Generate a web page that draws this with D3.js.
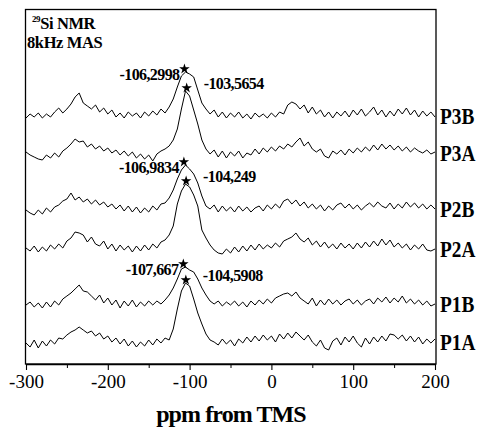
<!DOCTYPE html>
<html>
<head>
<meta charset="utf-8">
<title>29Si NMR</title>
<script type="text/javascript" src="https://cdn.jsdelivr.net/npm/d3@7"></script>
<style>
body { margin: 0; background: #fff; }
svg text { font-family: "Liberation Serif", "Times New Roman", serif; fill: #000; }
</style>
</head>
<body>
<div id="chart"></div>
<script type="text/javascript">
// chemical shift grid (ppm), 5 ppm steps
var ppm = [-300,-295,-290,-285,-280,-275,-270,-265,-260,-255,-250,-245,-240,-235,-230,-225,-220,-215,-210,-205,
  -200,-195,-190,-185,-180,-175,-170,-165,-160,-155,-150,-145,-140,-135,-130,-125,-120,-115,-110,-105,
  -100,-95,-90,-85,-80,-75,-70,-65,-60,-55,-50,-45,-40,-35,-30,-25,-20,-15,-10,-5,
  0,5,10,15,20,25,30,35,40,45,50,55,60,65,70,75,80,85,90,95,
  100,105,110,115,120,125,130,135,140,145,150,155,160,165,170,175,180,185,190,195,200];

// intensities (a.u.), one array per sample
var P3B = [-1,3,0,4,-1,3,0,5,9,4,8,13,20,24,14,11,8,12,5,9,
  3,7,0,4,-1,5,1,4,-1,5,1,6,2,8,4,10,18,30,41,45,
  43,40,27,14,8,3,7,0,5,-1,4,0,5,-1,3,-2,4,0,3,-1,
  4,0,5,3,12,15,13,8,12,4,10,3,7,0,5,-1,5,1,6,0,
  7,2,8,1,5,10,2,7,0,6,1,8,3,9,2,7,0,6,1,5,0];
var P3A = [2,-1,-3,-5,-6,-1,-4,1,-3,3,6,10,15,12,13,7,10,5,8,3,
  6,1,4,-1,3,-2,2,-4,0,-5,-1,-7,0,3,5,8,14,25,45,63,
  58,44,30,14,5,0,4,-3,3,-4,2,-2,3,-4,1,-1,5,0,6,2,
  7,3,8,5,10,7,12,16,8,12,5,2,5,-2,-4,3,0,4,-1,5,
  1,6,2,7,3,9,4,10,5,9,4,8,3,7,2,6,3,1,4,0,2];
var P2B = [0,-3,-5,0,-4,2,-2,3,5,9,11,17,10,13,8,11,6,10,5,8,
  3,6,1,5,-1,4,-2,3,-3,2,-2,4,0,6,7,12,20,31,40,45,
  41,36,27,14,4,1,5,-2,4,-1,3,-2,4,-1,3,-2,2,4,-1,5,
  1,6,2,9,11,6,10,4,8,2,6,1,5,-1,4,0,5,7,2,6,
  1,5,0,4,7,3,8,4,2,7,1,6,2,8,3,7,2,6,1,5,1];
var P2A = [2,-1,4,-2,3,-1,5,1,6,2,9,12,18,17,15,8,13,6,4,9,
  1,6,-1,5,0,4,-2,4,-1,5,0,6,2,8,10,15,24,46,59,66,
  63,55,44,20,12,5,0,-3,-4,1,-3,3,-2,4,-1,5,0,6,1,5,
  2,7,3,9,11,13,17,11,8,12,5,9,3,8,2,6,1,7,2,6,
  1,7,2,8,3,9,4,11,5,10,3,7,2,6,0,5,1,6,0,-1,1];
var P1B = [0,3,-2,2,-3,3,-2,4,0,6,9,12,16,20,14,13,9,5,10,2,
  7,0,5,-3,4,-1,5,-2,3,-1,4,0,4,1,5,10,17,26,36,38,
  35,33,26,17,10,4,1,4,-1,3,0,4,-1,3,-2,4,0,5,1,6,
  2,7,9,11,12,9,13,7,4,1,7,-1,5,0,6,1,5,0,4,6,
  1,5,0,4,6,1,7,3,8,2,7,3,9,2,6,1,5,0,4,-1,1];
var P1A = [0,-4,3,-5,2,-3,3,-1,5,4,8,11,13,16,13,10,12,7,10,4,
  7,1,5,-1,4,-3,2,-4,1,-3,3,-2,4,0,5,3,14,34,52,60,
  57,44,30,19,9,3,1,-2,4,-1,3,-3,4,0,6,1,7,2,8,3,
  7,1,9,4,10,5,11,7,3,8,1,-3,3,-5,-7,2,5,-2,6,1,
  7,0,-4,5,-1,6,1,7,2,9,8,4,8,2,7,1,6,-1,4,0,4];

var names = ["P3B", "P3A", "P2B", "P2A", "P1B", "P1A"];
var series = [P3B, P3A, P2B, P2A, P1B, P1A];
// vertical stacking offset of each trace (a.u.)
var offsets = [247, 210, 154, 114, 59, 21];

// fitted peak maxima (ppm) and the printed labels
var peakPos = [-106.2998, -103.5654, -106.9834, -104.249, -107.667, -104.5908];
var peakText = ["-106,2998", "-103,5654", "-106,9834", "-104,249", "-107,667", "-104,5908"];

var xTicks = [-300, -200, -100, 0, 100, 200];
var xMinor = [-250, -150, -50, 50, 150];

var svgWidth = 479, svgHeight = 429;
var svg = d3.select("#chart").append("svg")
    .attr("width", svgWidth)
    .attr("height", svgHeight);

var x = d3.scaleLinear().domain([-300, 200]).range([26, 435]);
var y = d3.scaleLinear().domain([0, 355]).range([364, 9]);

// frame
svg.append("rect")
    .attr("x", 25.5).attr("y", 9.5)
    .attr("width", 410.5).attr("height", 354.5)
    .attr("fill", "none")
    .attr("stroke", "#000")
    .attr("stroke-width", 1.3);

// bottom axis
var xAxis = svg.append("g")
    .attr("transform", "translate(0,364)")
    .call(d3.axisBottom(x).tickValues(xTicks).tickSizeInner(6).tickSizeOuter(0).tickPadding(5)
        .tickFormat(function(d) { return d; }));
xAxis.select(".domain").attr("stroke-width", 1.3);
xAxis.selectAll(".tick line").attr("stroke-width", 1.1);
xAxis.selectAll(".tick text")
    .attr("font-family", "Liberation Serif")
    .attr("font-size", "19px")
    .attr("fill", "#000");

svg.append("g")
    .attr("transform", "translate(0,364)")
    .call(d3.axisBottom(x).tickValues(xMinor).tickSize(4).tickFormat(""))
    .call(function(g) { g.select(".domain").remove(); });

svg.append("text")
    .attr("x", 231)
    .attr("y", 422)
    .attr("text-anchor", "middle")
    .attr("font-size", "24px")
    .attr("font-weight", "bold")
    .attr("letter-spacing", "-0.9px")
    .text("ppm from TMS");

// spectra
var line = d3.line()
    .x(function(d, i) { return x(ppm[i]); });

series.forEach(function(s, k) {
    line.y(function(d) { return y(offsets[k] + d); });
    svg.append("path")
        .datum(s)
        .attr("fill", "none")
        .attr("stroke", "#000")
        .attr("stroke-width", 1)
        .attr("stroke-linejoin", "round")
        .attr("d", line);

    // sample name, narrowed like the original
    svg.append("text")
        .attr("transform", "translate(440," + (y(offsets[k]) + 7) + ") scale(0.84,1)")
        .attr("font-size", "23px")
        .attr("font-weight", "bold")
        .text(names[k]);

    // peak marker
    var top = d3.max(s.slice(30, 50));
    var sx = x(peakPos[k]), sy = y(offsets[k] + top) - 3;
    svg.append("path")
        .attr("d", d3.symbol().type(d3.symbolStar).size(34))
        .attr("transform", "translate(" + sx + "," + sy + ")")
        .attr("fill", "#000");

    var isB = (k % 2 == 0);
    svg.append("text")
        .attr("x", isB ? sx - 5 : sx + 17)
        .attr("y", isB ? sy + 11 : sy + 1)
        .attr("text-anchor", isB ? "end" : "start")
        .attr("font-size", "16px")
        .attr("font-weight", "bold")
        .attr("letter-spacing", "-0.6px")
        .text(peakText[k]);
});

// title
var t = svg.append("text")
    .attr("x", 32)
    .attr("y", 29)
    .attr("font-size", "16.5px")
    .attr("font-weight", "bold")
    .attr("letter-spacing", "-0.4px");
t.append("tspan").attr("font-size", "9px").attr("dy", -7).text("29");
t.append("tspan").attr("dy", 7).text("Si NMR");
svg.append("text")
    .attr("x", 27)
    .attr("y", 48)
    .attr("font-size", "16.5px")
    .attr("font-weight", "bold")
    .attr("letter-spacing", "-0.4px")
    .text("8kHz MAS");
</script>
</body>
</html>
